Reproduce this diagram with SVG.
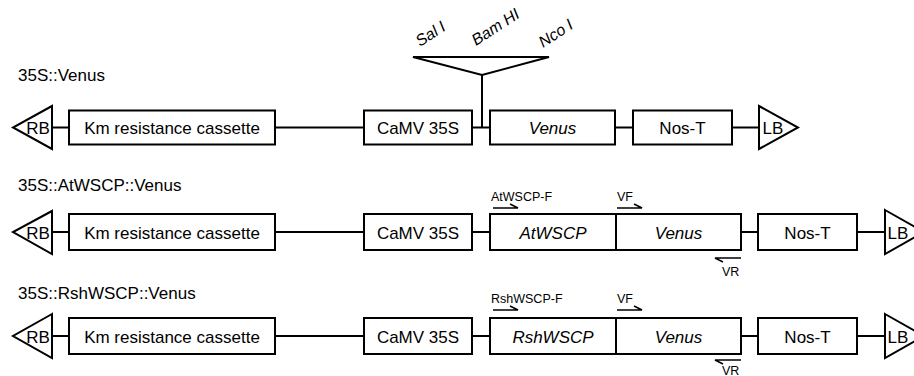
<svg xmlns="http://www.w3.org/2000/svg" width="914" height="376" viewBox="0 0 914 376">
<style>
.bx{fill:#fff;stroke:#000;stroke-width:2}
.ln{fill:none;stroke:#000;stroke-width:2}
.pr{fill:none;stroke:#000;stroke-width:1.5}
text{font-family:"Liberation Sans",Arial,sans-serif;fill:#000}
.t{font-size:17px;text-anchor:middle}
.i{font-style:italic}
.h{font-size:17px}
.p{font-size:12.5px}
.r{font-size:16px;font-style:italic}
</style>
<rect width="914" height="376" fill="#fff"/>
<g id="connectors">
<path class="ln" d="M52 127.5H69M275 127.5H364M472 127.5H490M615 127.5H633M732 127.5H759M482 75V127.5"/>
<path class="ln" d="M52 232H69M275 232H364M472 232H490M741 232H758M857 232H885"/>
<path class="ln" d="M52 336H69M275 336H364M472 336H490M741 336H758M857 336H885"/>
</g>
<g id="title1"><text class="h" x="18" y="81">35S::Venus</text></g>
<g id="title2"><text class="h" x="18" y="191">35S::AtWSCP::Venus</text></g>
<g id="title3"><text class="h" x="18" y="299">35S::RshWSCP::Venus</text></g>
<g id="sites">
<path class="ln" d="M413 57L549 57L482 75Z" stroke-linejoin="miter"/>
<text class="r" transform="translate(420,47) rotate(-33)">Sal I</text>
<text class="r" transform="translate(476,46) rotate(-33)">Bam HI</text>
<text class="r" transform="translate(543,48) rotate(-33)">Nco I</text>
</g>
<g id="row1">
<g id="rb1"><path class="bx" d="M52 106L13 127.5L52 149Z"/><text class="t" x="38" y="134">RB</text></g>
<g id="km1"><rect class="bx" x="69" y="110.5" width="206" height="34"/><text class="t" x="172" y="134">Km resistance cassette</text></g>
<g id="camv1"><rect class="bx" x="364" y="110.5" width="108" height="34"/><text class="t" x="418" y="134">CaMV 35S</text></g>
<g id="venus1"><rect class="bx" x="490" y="110.5" width="125" height="34"/><text class="t i" x="552.5" y="134">Venus</text></g>
<g id="nos1"><rect class="bx" x="633" y="110.5" width="99" height="34"/><text class="t" x="682.5" y="134">Nos-T</text></g>
<g id="lb1"><path class="bx" d="M759 106L798 127.5L759 149Z"/><text class="t" x="773" y="134">LB</text></g>
</g>
<g id="row2">
<g id="rb2"><path class="bx" d="M52 211L13 232L52 254Z"/><text class="t" x="38" y="238.5">RB</text></g>
<g id="km2"><rect class="bx" x="69" y="214" width="206" height="36"/><text class="t" x="172" y="238.5">Km resistance cassette</text></g>
<g id="camv2"><rect class="bx" x="364" y="214" width="108" height="36"/><text class="t" x="418" y="238.5">CaMV 35S</text></g>
<g id="atwscp2"><rect class="bx" x="490" y="214" width="126" height="36"/><text class="t i" x="553" y="238.5">AtWSCP</text></g>
<g id="venus2"><rect class="bx" x="616" y="214" width="125" height="36"/><text class="t i" x="678.5" y="238.5">Venus</text></g>
<g id="nos2"><rect class="bx" x="758" y="214" width="99" height="36"/><text class="t" x="807.5" y="238.5">Nos-T</text></g>
<g id="lb2"><path class="bx" d="M885 210L924 232L885 254Z"/><text class="t" x="898" y="238.5">LB</text></g>
<g id="primers2">
<text class="p" x="491" y="201">AtWSCP-F</text>
<path class="pr" d="M493 208H518L510 204"/>
<text class="p" x="617" y="201">VF</text>
<path class="pr" d="M617 208H642L634 204"/>
<path class="pr" d="M741 258H715L723 262"/>
<text class="p" x="722" y="276">VR</text>
</g>
</g>
<g id="row3">
<g id="rb3"><path class="bx" d="M52 314L13 336L52 358Z"/><text class="t" x="38" y="342.5">RB</text></g>
<g id="km3"><rect class="bx" x="69" y="318" width="206" height="36"/><text class="t" x="172" y="342.5">Km resistance cassette</text></g>
<g id="camv3"><rect class="bx" x="364" y="318" width="108" height="36"/><text class="t" x="418" y="342.5">CaMV 35S</text></g>
<g id="rshwscp3"><rect class="bx" x="490" y="318" width="126" height="36"/><text class="t i" x="553" y="342.5">RshWSCP</text></g>
<g id="venus3"><rect class="bx" x="616" y="318" width="125" height="36"/><text class="t i" x="678.5" y="342.5">Venus</text></g>
<g id="nos3"><rect class="bx" x="758" y="318" width="99" height="36"/><text class="t" x="807.5" y="342.5">Nos-T</text></g>
<g id="lb3"><path class="bx" d="M885 314L924 336L885 358Z"/><text class="t" x="898" y="342.5">LB</text></g>
<g id="primers3">
<text class="p" x="491" y="303">RshWSCP-F</text>
<path class="pr" d="M493 310H518L510 306"/>
<text class="p" x="617" y="303">VF</text>
<path class="pr" d="M617 310H642L634 306"/>
<path class="pr" d="M741 360H715L723 364"/>
<text class="p" x="722" y="374.5">VR</text>
</g>
</g>
</svg>
